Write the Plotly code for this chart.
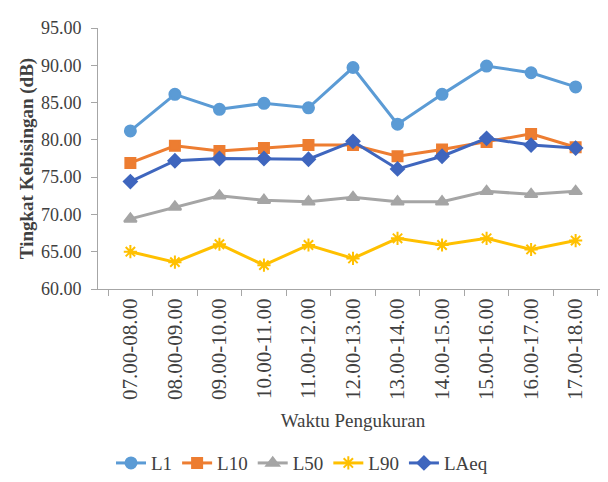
import plotly.graph_objects as go

categories = ["07.00-08.00", "08.00-09.00", "09.00-10.00", "10.00-11.00", "11.00-12.00",
              "12.00-13.00", "13.00-14.00", "14.00-15.00", "15.00-16.00", "16.00-17.00", "17.00-18.00"]
L1 = [81.2, 86.1, 84.1, 84.9, 84.3, 89.7, 82.1, 86.1, 89.9, 89.0, 87.1]
L10 = [76.9, 79.2, 78.5, 78.9, 79.3, 79.3, 77.8, 78.7, 79.7, 80.8, 79.0]
L50 = [69.4, 71.0, 72.5, 71.9, 71.7, 72.3, 71.7, 71.7, 73.1, 72.7, 73.1]
L90 = [65.0, 63.6, 66.0, 63.2, 65.9, 64.1, 66.8, 65.9, 66.8, 65.3, 66.5]
LAeq = [74.4, 77.2, 77.5, 77.5, 77.4, 79.8, 76.1, 77.8, 80.2, 79.3, 78.9]

series = [
    ("L1", L1, "#5B9BD5", "circle", 11),
    ("L10", L10, "#ED7D31", "square", 10),
    ("L50", L50, "#A5A5A5", "triangle-up", 11),
    ("L90", L90, "#FFC000", "asterisk-open", 11),
    ("LAeq", LAeq, "#3F66BE", "diamond", 10),
]

fig = go.Figure()
for name, vals, color, sym, size in series:
    fig.add_trace(go.Scatter(
        x=categories, y=vals, name=name, mode="lines+markers",
        line=dict(color=color, width=3),
        marker=dict(symbol=sym, size=size, color=color,
                    line=dict(color=color, width=2)),
    ))

font = "Liberation Serif"
fig.update_layout(
    width=608, height=482,
    margin=dict(l=90, r=8, t=20, b=195),
    paper_bgcolor="white", plot_bgcolor="white",
    font=dict(family=font, color="#404040", size=18),
    showlegend=True,
    legend=dict(orientation="h", x=0.40, xanchor="center", y=-0.667, yanchor="middle",
                font=dict(size=19, family=font, color="#404040"), tracegroupgap=0),
    xaxis=dict(
        type="category", tickangle=-90, tickson="boundaries", ticks="outside",
        ticklen=6, tickcolor="#A6A6A6", showline=True, linecolor="#A6A6A6", linewidth=1,
        showgrid=False, tickfont=dict(size=21, family=font, color="#404040"),
        title=dict(text="Waktu Pengukuran", font=dict(size=19, family=font, color="#404040"), standoff=14),
    ),
    yaxis=dict(
        range=[60, 95], dtick=5, tickformat=".2f", ticks="outside", ticklen=6,
        ticklabelstandoff=6,
        tickcolor="#A6A6A6", showline=True, linecolor="#A6A6A6", linewidth=1,
        showgrid=False, zeroline=False, tickfont=dict(size=18, family=font, color="#404040"),
        title=dict(text="<b>Tingkat Kebisingan (dB)</b>",
                   font=dict(size=19, family=font, color="#404040"), standoff=2),
    ),
)

fig.write_html("out.html")
